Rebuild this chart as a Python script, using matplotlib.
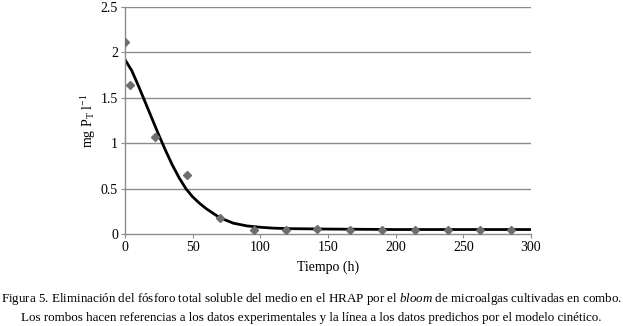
import matplotlib.pyplot as plt

# datos experimentales (rombos)
t_exp = [0, 4, 22, 46, 70, 95, 119, 142, 166, 190, 214, 239, 262, 285]
p_exp = [2.12, 1.64, 1.07, 0.65, 0.18, 0.045, 0.045, 0.06, 0.045, 0.045, 0.05, 0.05, 0.04, 0.05]

# datos predichos por el modelo (linea)
t_mod = [0, 5, 10, 15, 20, 25, 30, 35, 40, 45, 50, 55, 60, 65, 70, 75, 80, 90, 100, 110, 120, 150, 200, 250, 300]
p_mod = [1.92, 1.80, 1.63, 1.45, 1.27, 1.09, 0.92, 0.76, 0.62, 0.50, 0.41, 0.34, 0.28, 0.23, 0.18,
         0.15, 0.12, 0.09, 0.075, 0.065, 0.06, 0.055, 0.05, 0.05, 0.05]

xticks = [0, 50, 100, 150, 200, 250, 300]
yticks = [0, 0.5, 1, 1.5, 2, 2.5]
ylabels = ["0", "0.5", "1", "1.5", "2", "2.5"]

plt.rcParams['font.family'] = ['Liberation Serif', 'DejaVu Serif']
plt.rcParams['mathtext.fontset'] = 'custom'
plt.rcParams['mathtext.rm'] = 'Liberation Serif'
plt.rcParams['mathtext.it'] = 'Liberation Serif:italic'

fig = plt.figure(figsize=(6.23, 3.26), dpi=100)
ax = fig.add_axes([0.2006, 0.282, 0.6517, 0.6965])

for y in yticks[1:]:
    ax.axhline(y, color="#8c8c8c", lw=1.0, zorder=0)

ax.plot(t_mod, p_mod, color="black", lw=2.0, zorder=2)
ax.plot(t_exp, p_exp, "D", color="#6e6e6e", ms=4, zorder=3)

ax.set_xlim(0, 300)
ax.set_ylim(0, 2.5)
ax.set_xticks(xticks)
ax.set_yticks(yticks)
ax.set_yticklabels(ylabels)
ax.tick_params(labelsize=10, color="#8c8c8c", length=3, width=0.8, pad=2)

for s in ["top", "right"]:
    ax.spines[s].set_visible(False)
for s in ["left", "bottom"]:
    ax.spines[s].set_color("#8c8c8c")
    ax.spines[s].set_linewidth(1.0)

ax.set_xlabel("Tiempo (h)", fontsize=10, labelpad=5)
ax.set_ylabel("mg P$_\\mathregular{T}$ l$^\\mathregular{-1}$", fontsize=10, labelpad=2)

fig.text(0.5, 0.083, "Figura 5. Eliminación del fósforo total soluble del medio en el HRAP por el $\\it{bloom}$ de microalgas cultivadas en combo.",
         ha="center", va="center", fontsize=9.35)
fig.text(0.5, 0.025, "Los rombos hacen referencias a los datos experimentales y la línea a los datos predichos por el modelo cinético.",
         ha="center", va="center", fontsize=9.35)

fig.savefig("out.png", dpi=100)
